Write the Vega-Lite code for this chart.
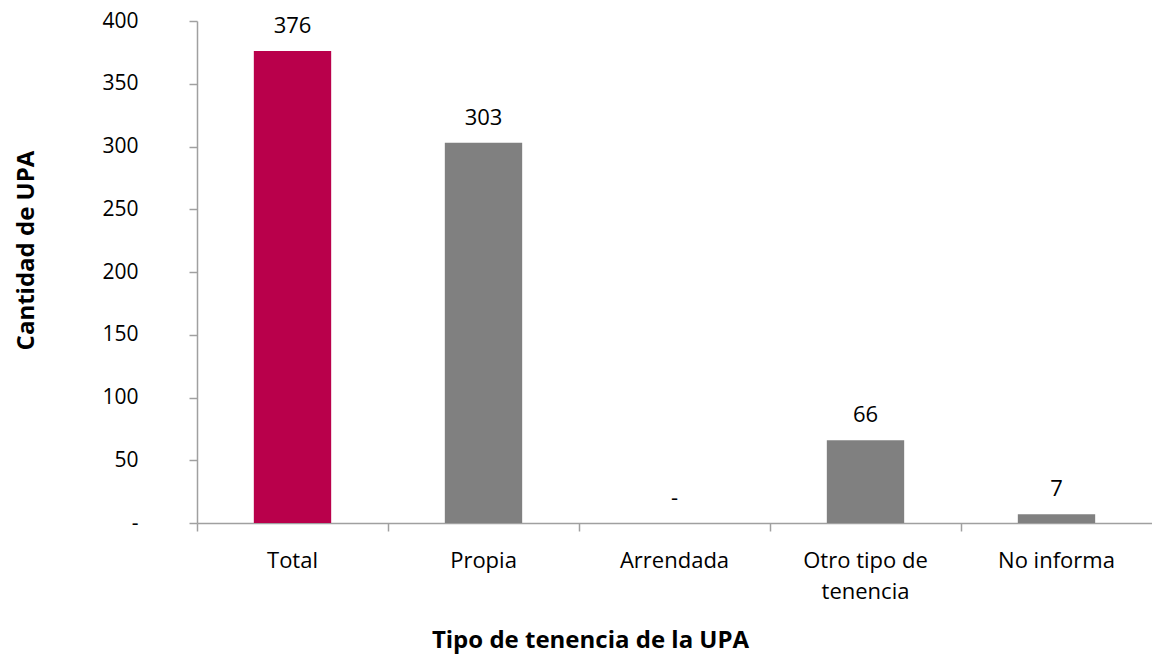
{
  "$schema": "https://vega.github.io/schema/vega-lite/v6.json",
  "autosize": {"type": "none"},
  "padding": {"left": 197, "top": 21, "right": 0, "bottom": 132},
  "width": 955,
  "height": 502,
  "background": "white",
  "config": {
    "view": {"stroke": null},
    "font": "Open Sans",
    "axis": {"labelFont": "Open Sans", "titleFont": "Open Sans", "labelColor": "#000000", "titleColor": "#000000", "domainColor": "#A0A0A0", "tickColor": "#A0A0A0", "domainWidth": 1.5, "tickWidth": 1.5, "grid": false}
  },
  "data": {
    "values": [
      {"tipo": "Total", "value": 376, "grupo": "total"},
      {"tipo": "Propia", "value": 303, "grupo": "otro"},
      {"tipo": "Arrendada", "value": 0, "grupo": "otro"},
      {"tipo": "Otro tipo de tenencia", "value": 66, "grupo": "otro"},
      {"tipo": "No informa", "value": 7, "grupo": "otro"}
    ]
  },
  "encoding": {
    "x": {
      "field": "tipo",
      "type": "nominal",
      "sort": null,
      "scale": {"paddingInner": 0, "paddingOuter": 0},
      "axis": {
        "title": "Tipo de tenencia de la UPA",
        "titleFontSize": 24,
        "titleFontWeight": "bold",
        "titleX": 393,
        "titleY": 117,
        "titleAlign": "center",
        "titleBaseline": "middle",
        "titleAnchor": null,
        "labelAngle": 0,
        "labelFontSize": 22,
        "labelPadding": 19,
        "labelLineHeight": 31,
        "tickSize": 8,
        "bandPosition": 0,
        "labelExpr": "datum.label == 'Otro tipo de tenencia' ? ['Otro tipo de', 'tenencia'] : datum.label"
      }
    },
    "y": {
      "field": "value",
      "type": "quantitative",
      "scale": {"domain": [0, 400], "nice": false},
      "axis": {
        "title": "Cantidad de UPA",
        "titleFontSize": 24,
        "titleFontWeight": "bold",
        "titleAngle": 270,
        "titleX": -171,
        "titleY": 229,
        "titleAlign": "center",
        "titleBaseline": "middle",
        "titleAnchor": null,
        "values": [0, 50, 100, 150, 200, 250, 300, 350, 400],
        "labelFontSize": 21,
        "labelPadding": 51,
        "tickSize": 8,
        "labelExpr": "datum.value == 0 ? '-\u00a0\u00a0\u00a0' : datum.label"
      }
    }
  },
  "layer": [
    {
      "mark": {"type": "bar", "width": {"band": 0.405}},
      "encoding": {
        "color": {
          "field": "grupo",
          "type": "nominal",
          "scale": {"domain": ["total", "otro"], "range": ["#B9004B", "#808080"]},
          "legend": null
        }
      }
    },
    {
      "mark": {"type": "text", "fontSize": 22, "baseline": "alphabetic", "dy": -18, "color": "#000000"},
      "encoding": {
        "text": {"condition": {"test": "datum.value == 0", "value": "-"}, "field": "value", "type": "quantitative"}
      }
    }
  ]
}
